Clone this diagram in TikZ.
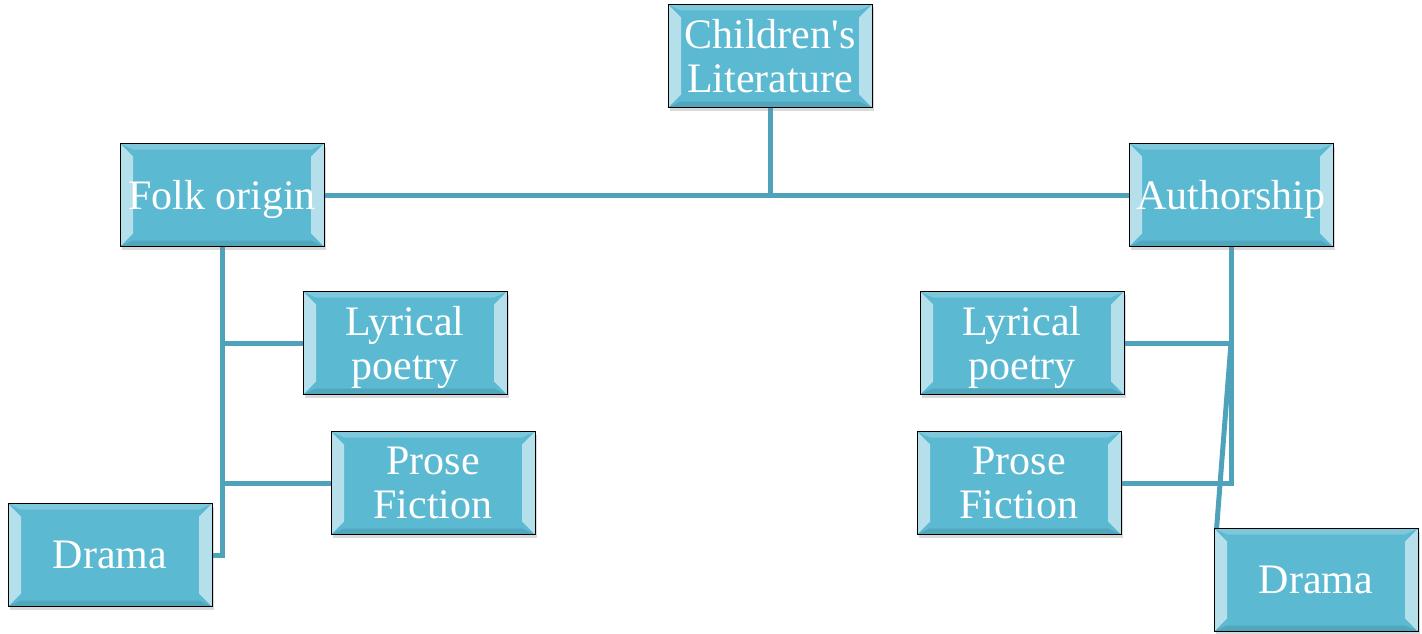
\documentclass[tikz,border=0pt]{standalone}
\usepackage{fontspec}
\setmainfont{Liberation Serif}
\usepackage{xcolor}
\definecolor{boxblue}{RGB}{91,185,209}
\definecolor{linkteal}{RGB}{78,163,186}
\usetikzlibrary{calc}
\usetikzlibrary{shadows}
\usetikzlibrary{backgrounds}
\newcommand{\widthbox}{204pt}
\newcommand{\heightbox}{103pt}
\newcommand{\widthbevel}{13pt}
\tikzset{
    bevel/.style={
        path picture={
            \fill[white, opacity=0.22]
                (path picture bounding box.north west) -- (path picture bounding box.north east)
                -- ($(path picture bounding box.north east)+(-\widthbevel,-6pt)$)
                -- ($(path picture bounding box.north west)+(\widthbevel,-6pt)$) -- cycle;
            \fill[black, opacity=0.10]
                (path picture bounding box.south west) -- (path picture bounding box.south east)
                -- ($(path picture bounding box.south east)+(-\widthbevel,6pt)$)
                -- ($(path picture bounding box.south west)+(\widthbevel,6pt)$) -- cycle;
            \fill[white, opacity=0.55]
                (path picture bounding box.north west) -- ($(path picture bounding box.north west)+(\widthbevel,-\widthbevel)$)
                -- ($(path picture bounding box.south west)+(\widthbevel,\widthbevel)$)
                -- (path picture bounding box.south west) -- cycle;
            \fill[white, opacity=0.55]
                (path picture bounding box.north east) -- ($(path picture bounding box.north east)+(-\widthbevel,-\widthbevel)$)
                -- ($(path picture bounding box.south east)+(-\widthbevel,\widthbevel)$)
                -- (path picture bounding box.south east) -- cycle;
        }
    },
    box/.style={draw=black, thick, fill=boxblue, text=white, align=center,
        minimum width=\widthbox, minimum height=\heightbox, inner sep=0pt, text depth=0pt,
        font=\fontsize{42}{44}\selectfont, bevel,
        drop shadow={opacity=0.3, shadow xshift=2pt, shadow yshift=-3pt}},
    link/.style={draw=linkteal, line width=5pt},
}

\begin{document}
\begin{tikzpicture}[x=1pt, y=-1pt]
    \useasboundingbox (0,0) rectangle (1422,634);
    \path
        node[box] (top) at (770,56) {Children\textquotesingle s\\Literature}
        node[box] (folk) at (222,195) {Folk origin}
        node[box] (author) at (1231,195) {Authorship}
        node[box] (lyricL) at (405,343) {Lyrical\\poetry}
        node[box] (proseL) at (433,483) {Prose\\Fiction}
        node[box] (dramaL) at (110,555) {Drama}
        node[box] (lyricR) at (1022,343) {Lyrical\\poetry}
        node[box] (proseR) at (1019,483) {Prose\\Fiction}
        node[box] (dramaR) at (1316,580) {Drama};

    \begin{scope}[on background layer]
        \coordinate (hubR) at (author.south |- lyricR.east);
        \draw[link] (top.south) -- (top.south |- folk.east);
        \draw[link] (folk.east) -- (author.west);
        \draw[link] (folk.south) |- (dramaL.east);
        \draw[link] (folk.south |- lyricL.west) -- (lyricL.west);
        \draw[link] (folk.south |- proseL.west) -- (proseL.west);
        \draw[link] (author.south) -- (hubR) -- (lyricR.east);
        \draw[link] (hubR) |- (proseR.east);
        \draw[link] (hubR) -- ([xshift=3pt]dramaR.north west);
    \end{scope}
\end{tikzpicture}
\end{document}
